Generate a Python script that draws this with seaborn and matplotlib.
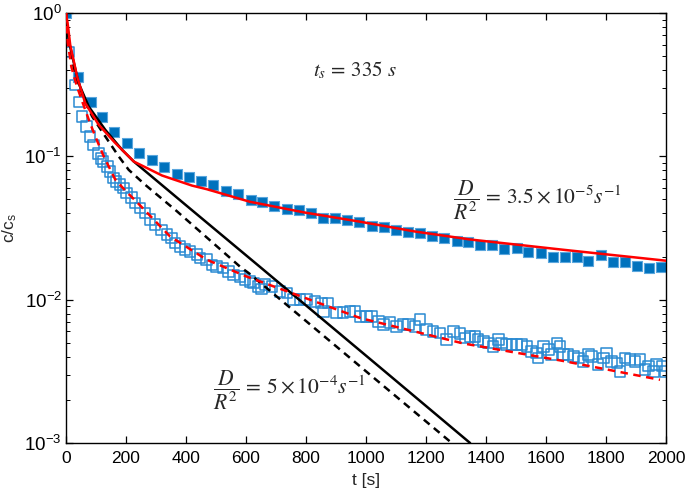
import numpy as np
import matplotlib
matplotlib.use("Agg")
import matplotlib.pyplot as plt
import seaborn as sns

# filled squares (first release curve)
t_fill = [0, 40, 83, 120, 160, 203, 243, 287, 327, 370, 410, 450, 490, 533, 573,
          617, 654, 693, 736, 777, 816, 858, 898, 938, 978, 1019, 1059, 1099, 1139,
          1181, 1221, 1261, 1302, 1341, 1380, 1421, 1461, 1502, 1541, 1582, 1624,
          1663, 1702, 1741, 1783, 1824, 1863, 1902, 1943, 1983]
c_fill = [1.0, 0.355, 0.240, 0.189, 0.148, 0.123, 0.106, 0.095, 0.0848, 0.0758,
          0.0715, 0.0675, 0.0633, 0.0575, 0.0548, 0.0499, 0.0478, 0.0448, 0.0430,
          0.0423, 0.0400, 0.0372, 0.0372, 0.0358, 0.0349, 0.0329, 0.0320, 0.0304,
          0.0298, 0.0290, 0.0278, 0.0271, 0.0256, 0.0251, 0.0239, 0.0240, 0.0227,
          0.0231, 0.0216, 0.0212, 0.0198, 0.0197, 0.0197, 0.0186, 0.0206, 0.0184,
          0.0182, 0.0173, 0.0167, 0.0170]

# open squares (second release curve)
t_open = [0, 8, 30, 43, 54, 69, 80, 91, 108, 117, 124, 138, 147, 158, 167, 180, 191,
          202, 219, 230, 247, 263, 280, 297, 319, 336, 352, 363, 380, 397, 413, 436,
          447, 469, 486, 502, 524, 541, 558, 580, 597, 613, 625, 641, 652, 663, 686,
          713, 736, 758, 780, 802, 830, 852, 858, 874, 902, 924, 947, 963, 980, 1002,
          1019, 1041, 1058, 1080, 1102, 1124, 1141, 1163, 1180, 1202, 1224, 1247,
          1269, 1291, 1313, 1330, 1347, 1363, 1374, 1391, 1408, 1424, 1441, 1452,
          1469, 1486, 1502, 1519, 1536, 1552, 1569, 1574, 1591, 1608, 1619, 1636,
          1647, 1658, 1674, 1691, 1708, 1724, 1741, 1752, 1774, 1791, 1802, 1819,
          1836, 1847, 1863, 1880, 1897, 1913, 1930, 1941, 1958, 1969, 1986, 1997]
c_open = [1.0, 0.535, 0.315, 0.24, 0.19, 0.161, 0.137, 0.120, 0.105, 0.097, 0.092,
          0.085, 0.0784, 0.0705, 0.0667, 0.0636, 0.060, 0.0554, 0.0514, 0.0472,
          0.0435, 0.0402, 0.0361, 0.0333, 0.0307, 0.0284, 0.0269, 0.0248, 0.0235,
          0.0223, 0.0217, 0.0206, 0.0195, 0.0190, 0.0175, 0.0171, 0.0166, 0.0157,
          0.0149, 0.0145, 0.0138, 0.0134, 0.0131, 0.0124, 0.0119, 0.0127, 0.0124,
          0.0114, 0.0111, 0.0100, 0.0100, 0.0100, 0.0097, 0.0095, 0.0083, 0.0095,
          0.0081, 0.0081, 0.0083, 0.0083, 0.00765, 0.00765, 0.00765, 0.00706,
          0.0067, 0.0069, 0.00652, 0.0067, 0.0067, 0.00652, 0.00726, 0.00618,
          0.00601, 0.00586, 0.00526, 0.00601, 0.0058, 0.0054, 0.00555, 0.00555,
          0.00526, 0.00512, 0.00499, 0.00473, 0.00526, 0.00499, 0.00486, 0.00486,
          0.00486, 0.00486, 0.00473, 0.00436, 0.00425, 0.00392, 0.00473, 0.00449,
          0.00414, 0.00499, 0.00473, 0.00414, 0.00414, 0.00403, 0.00392, 0.00372,
          0.00414, 0.00403, 0.00352, 0.00392, 0.00425, 0.00372, 0.00362, 0.00316,
          0.00392, 0.00382, 0.00372, 0.00382, 0.00325, 0.00344, 0.00316, 0.00352,
          0.00344, 0.00316]

# model curves
t_red = [0, 7, 14, 37, 64, 109, 164, 226, 320, 420, 469, 613, 797, 980, 1163, 1347, 1657, 2000]
c_red = [1.0, 0.80, 0.60, 0.36, 0.235, 0.166, 0.124, 0.092, 0.0735, 0.0625, 0.059,
         0.0482, 0.0405, 0.035, 0.0299, 0.0263, 0.0223, 0.0187]

t_red_d = [0, 6, 18, 36, 53, 76, 98, 126, 164, 200, 236, 347, 469, 602, 980, 1324, 1647, 1980]
c_red_d = [1.0, 0.62, 0.42, 0.31, 0.245, 0.18, 0.137, 0.0997, 0.069, 0.057, 0.048,
           0.0276, 0.019, 0.0145, 0.00745, 0.00495, 0.00377, 0.00276]

t_blk = [0, 9, 42, 76, 131, 187, 226, 400, 647, 1058, 1347]
c_blk = [1.0, 0.64, 0.324, 0.222, 0.153, 0.111, 0.092, 0.0456, 0.0169, 0.00322, 0.001]

t_blk_d = [0, 10, 30, 60, 87, 120, 176, 209, 264, 302, 369, 580, 613, 991, 1286]
c_blk_d = [1.0, 0.6, 0.38, 0.25, 0.19, 0.149, 0.0997, 0.0805, 0.0633, 0.0543, 0.0415,
           0.0170, 0.0151, 0.00328, 0.001]

sns.set_theme(style="ticks")
plt.rcParams['font.family'] = ['Liberation Sans', 'DejaVu Sans']
plt.rcParams['mathtext.fontset'] = 'stix'

fig = plt.figure(figsize=(6.85, 4.96), dpi=100)
ax = fig.add_axes([66 / 685, 1 - 443 / 496, 600 / 685, 430 / 496])

blue = '#0072BD'
sns.scatterplot(x=t_open, y=c_open, marker='s', s=58, facecolors='none',
                edgecolor='#2a8ad2', linewidth=1.1, ax=ax, zorder=2)
sns.scatterplot(x=t_fill, y=c_fill, marker='s', s=62, color=blue,
                edgecolor='#5aa6dd', linewidth=0.8, ax=ax, zorder=2)

sns.lineplot(x=t_blk, y=c_blk, color='black', lw=1.8, estimator=None, sort=False, ax=ax, zorder=3)
sns.lineplot(x=t_blk_d, y=c_blk_d, color='black', lw=1.8, ls=(0, (3, 2.2)),
             estimator=None, sort=False, ax=ax, zorder=3)
sns.lineplot(x=t_red, y=c_red, color='red', lw=1.8, estimator=None, sort=False, ax=ax, zorder=4)
sns.lineplot(x=t_red_d, y=c_red_d, color='red', lw=1.8, ls=(0, (3, 2.2)),
             estimator=None, sort=False, ax=ax, zorder=4)

ax.set_yscale('log')
ax.set_xlim(0, 2000)
ax.set_ylim(1e-3, 1)
ax.set_xticks(np.arange(0, 2001, 200))
ax.tick_params(which='both', direction='in', top=True, right=True, colors='black')
ax.tick_params(axis='x', labelsize=12.5, pad=6)
ax.tick_params(axis='y', labelsize=13.5, pad=3)
ax.tick_params(which='major', length=5, width=0.9)
ax.tick_params(which='minor', length=3, width=0.7)
for sp in ax.spines.values():
    sp.set_linewidth(1.0)
    sp.set_color('black')

ax.set_xlabel('t [s]', fontsize=12.5, labelpad=5)
ax.set_ylabel(r'c/c$_\mathregular{s}$', fontsize=12.5, labelpad=4)

ax.text(0.412, 0.867, r'$t_s\,=\,335\ s$', transform=ax.transAxes, fontsize=15, va='center')
ax.text(0.645, 0.565, r'$\dfrac{D}{R^2}\,=\,3.5\times10^{-5}s^{-1}$', transform=ax.transAxes,
        fontsize=15.5, va='center')
ax.text(0.245, 0.123, r'$\dfrac{D}{R^2}\,=\,5\times10^{-4}s^{-1}$', transform=ax.transAxes,
        fontsize=15.5, va='center')

fig.savefig('out.png', dpi=100)
